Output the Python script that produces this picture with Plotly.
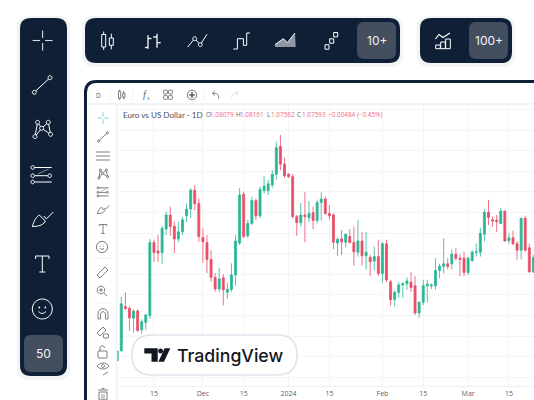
import re
import plotly.graph_objects as go

W, H = 534, 400

# daily EUR/USD candles
day_index = list(range(-1, 102))
opens = [1.0584, 1.0609, 1.0720, 1.0716, 1.0691, 1.0709, 1.0662, 1.0680, 1.0698, 1.0880, 1.0859, 1.0855, 1.0914,
         1.0949, 1.0921, 1.0889, 1.0907, 1.0947, 1.0964, 1.1011, 1.0978, 1.0893, 1.0880, 1.0838, 1.0793, 1.0764,
         1.0792, 1.0756, 1.0763, 1.0799, 1.0879, 1.1001, 1.0897, 1.0928, 1.0985, 1.0947, 1.1010, 1.1010, 1.1024,
         1.1051, 1.1120, 1.1076, 1.1051, 1.1045, 1.0945, 1.0930, 1.0949, 1.0942, 1.0955, 1.0935, 1.0980, 1.0989,
         1.0953, 1.0949, 1.0879, 1.0889, 1.0881, 1.0895, 1.0880, 1.0856, 1.0884, 1.0847, 1.0843, 1.0834, 1.0845,
         1.0803, 1.0877, 1.0782, 1.0738, 1.0755, 1.0774, 1.0777, 1.0781, 1.0772, 1.0704, 1.0731, 1.0772, 1.0772,
         1.0772, 1.0810, 1.0820, 1.0827, 1.0827, 1.0851, 1.0841, 1.0841, 1.0805, 1.0835, 1.0856, 1.0856, 1.0901,
         1.0956, 1.0937, 1.0936, 1.0928, 1.0959, 1.0885, 1.0892, 1.0877, 1.0861, 1.0941, 1.0867, 1.0807]
highs = [1.0609, 1.0744, 1.0756, 1.0720, 1.0713, 1.0714, 1.0688, 1.0702, 1.0889, 1.0887, 1.0899, 1.0921, 1.0957,
         1.0970, 1.0932, 1.0932, 1.0945, 1.0978, 1.1016, 1.1024, 1.0991, 1.0916, 1.0899, 1.0861, 1.0804, 1.0817,
         1.0801, 1.0780, 1.0828, 1.0899, 1.1016, 1.1007, 1.0937, 1.0995, 1.0991, 1.1020, 1.1047, 1.1037, 1.1061,
         1.1132, 1.1149, 1.1092, 1.1053, 1.1051, 1.0949, 1.0979, 1.1006, 1.0984, 1.0970, 1.0987, 1.1006, 1.0995,
         1.0974, 1.0954, 1.0892, 1.0911, 1.0901, 1.0914, 1.0920, 1.0937, 1.0907, 1.0906, 1.0849, 1.0870, 1.0887,
         1.0882, 1.0887, 1.0787, 1.0760, 1.0782, 1.0782, 1.0793, 1.0806, 1.0796, 1.0732, 1.0787, 1.0787, 1.0778,
         1.0841, 1.0827, 1.0891, 1.0841, 1.0863, 1.0866, 1.0851, 1.0857, 1.0845, 1.0861, 1.0878, 1.0917, 1.0964,
         1.0987, 1.0945, 1.0949, 1.0967, 1.0960, 1.0903, 1.0910, 1.0884, 1.0942, 1.0947, 1.0878, 1.0849]
lows = [1.0584, 1.0609, 1.0712, 1.0660, 1.0655, 1.0657, 1.0652, 1.0662, 1.0689, 1.0832, 1.0832, 1.0827, 1.0899,
        1.0897, 1.0854, 1.0882, 1.0899, 1.0931, 1.0941, 1.0961, 1.0882, 1.0830, 1.0804, 1.0782, 1.0757, 1.0757,
        1.0723, 1.0740, 1.0757, 1.0772, 1.0874, 1.0891, 1.0892, 1.0924, 1.0937, 1.0941, 1.1003, 1.0999, 1.1017,
        1.1037, 1.1061, 1.1042, 1.1042, 1.0941, 1.0897, 1.0920, 1.0881, 1.0931, 1.0914, 1.0928, 1.0935, 1.0949,
        1.0937, 1.0864, 1.0847, 1.0849, 1.0868, 1.0879, 1.0822, 1.0845, 1.0822, 1.0813, 1.0797, 1.0811, 1.0797,
        1.0780, 1.0781, 1.0722, 1.0720, 1.0742, 1.0742, 1.0762, 1.0757, 1.0699, 1.0692, 1.0724, 1.0730, 1.0764,
        1.0762, 1.0791, 1.0803, 1.0813, 1.0813, 1.0835, 1.0796, 1.0796, 1.0799, 1.0832, 1.0845, 1.0845, 1.0882,
        1.0924, 1.0920, 1.0907, 1.0926, 1.0882, 1.0877, 1.0874, 1.0837, 1.0838, 1.0857, 1.0804, 1.0804]
closes = [1.0609, 1.0727, 1.0715, 1.0692, 1.0709, 1.0660, 1.0682, 1.0699, 1.0880, 1.0855, 1.0854, 1.0916, 1.0949,
          1.0920, 1.0889, 1.0907, 1.0937, 1.0964, 1.1011, 1.0977, 1.0895, 1.0882, 1.0838, 1.0793, 1.0764, 1.0789,
          1.0762, 1.0763, 1.0799, 1.0884, 1.0999, 1.0895, 1.0928, 1.0985, 1.0947, 1.1013, 1.1021, 1.1027, 1.1051,
          1.1117, 1.1076, 1.1047, 1.1045, 1.0945, 1.0930, 1.0949, 1.0945, 1.0953, 1.0935, 1.0980, 1.0989, 1.0953,
          1.0947, 1.0881, 1.0888, 1.0882, 1.0901, 1.0880, 1.0857, 1.0884, 1.0847, 1.0856, 1.0832, 1.0845, 1.0803,
          1.0877, 1.0787, 1.0737, 1.0756, 1.0774, 1.0777, 1.0784, 1.0768, 1.0704, 1.0731, 1.0772, 1.0776, 1.0774,
          1.0810, 1.0821, 1.0827, 1.0820, 1.0851, 1.0841, 1.0838, 1.0805, 1.0841, 1.0856, 1.0857, 1.0903, 1.0956,
          1.0943, 1.0934, 1.0932, 1.0959, 1.0884, 1.0892, 1.0877, 1.0861, 1.0941, 1.0861, 1.0807, 1.0842]
last_close = 1.0759

tick_days = [8, 20, 30, 41, 51, 64, 74, 85, 95]
tick_labels = ["15", "Dec", "15", "2024", "15", "Feb", "15", "Mar", "15"]

NAVY = "#0f1f35"
BUTTON = "#434e5f"
GREEN = "#2bb595"
RED = "#e94f68"
ICON = "#5a5d68"
TEAL = "#7fd6cf"

shapes = []
notes = []


def to_paper(path):
    # path is written in page pixels, shapes want paper fractions
    out = []
    is_x = True
    for tok in re.findall(r"[MLQCZ]|-?[\d.]+", path):
        if tok.isalpha():
            out.append(tok)
        else:
            out.append(f"{float(tok) / W:.5f}" if is_x else f"{1 - float(tok) / H:.5f}")
            is_x = not is_x
    return " ".join(out)


def add_path(path, fill=None, line=None, width=1.0, layer="above", opacity=1):
    shapes.append(dict(type="path", path=to_paper(path), xref="paper", yref="paper", layer=layer, opacity=opacity,
                       fillcolor=fill or "rgba(0,0,0,0)",
                       line=dict(color=line or "rgba(0,0,0,0)", width=width if line else 0)))


def round_rect(x0, y0, x1, y1, r):
    return (f"M {x0 + r} {y0} L {x1 - r} {y0} Q {x1} {y0} {x1} {y0 + r} L {x1} {y1 - r} Q {x1} {y1} {x1 - r} {y1} "
            f"L {x0 + r} {y1} Q {x0} {y1} {x0} {y1 - r} L {x0} {y0 + r} Q {x0} {y0} {x0 + r} {y0} Z")


def circle(cx, cy, r):
    k = r * 0.5523
    return (f"M {cx - r} {cy} C {cx - r} {cy - k} {cx - k} {cy - r} {cx} {cy - r} "
            f"C {cx + k} {cy - r} {cx + r} {cy - k} {cx + r} {cy} "
            f"C {cx + r} {cy + k} {cx + k} {cy + r} {cx} {cy + r} "
            f"C {cx - k} {cy + r} {cx - r} {cy + k} {cx - r} {cy} Z")


def poly(cx, cy, s, pts, closed=False):
    d = "M " + " L ".join(f"{cx + x * s} {cy + y * s}" for x, y in pts)
    return d + (" Z" if closed else "")


def text(x, y, s, size, color, anchor="center", family="Inter", weight=None):
    notes.append(dict(x=x / W, y=1 - y / H, xref="paper", yref="paper", text=s, showarrow=False, xanchor=anchor,
                      yanchor="middle", align=anchor, borderpad=0,
                      font=dict(size=size, color=color, family=family, weight=weight)))


# icons are drawn on a 24 px box around their centre, s scales them
def icon_cross(cx, cy, s, c, w):
    for a, b in [((-10, 0), (-2.5, 0)), ((2.5, 0), (10, 0)), ((0, -10), (0, -2.5)), ((0, 2.5), (0, 10))]:
        add_path(poly(cx, cy, s, [a, b]), line=c, width=w)


def ring(cx, cy, s, x, y, r, c, w, bg):
    add_path(circle(cx + x * s, cy + y * s, r * s), fill=bg, line=c, width=w)


def icon_line(cx, cy, s, c, w, bg):
    add_path(poly(cx, cy, s, [(-8, 7.3), (7.7, -7.3)]), line=c, width=w)
    ring(cx, cy, s, -8, 7.3, 2, c, w, bg)
    ring(cx, cy, s, 7.7, -7.3, 2, c, w, bg)


def icon_pattern(cx, cy, s, c, w, bg):
    pts = [(-7.3, 7.3), (-4.7, -7), (-0.7, -1), (6, -7), (8.3, 5), (-0.7, -1), (-7.3, 7.3)]
    add_path(poly(cx, cy, s, pts), line=c, width=w)
    for x, y in pts[:5]:
        ring(cx, cy, s, x, y, 2, c, w, bg)


def icon_fib(cx, cy, s, c, w, bg):
    add_path(poly(cx, cy, s, [(-9, -7.5), (10, -7.5)]), line=c, width=w)
    add_path(poly(cx, cy, s, [(-9, 7), (10, 7)]), line=c, width=w)
    add_path(poly(cx, cy, s, [(-9, 0.7), (8, 0.7)]), line=c, width=w)
    add_path(poly(cx, cy, s, [(-4, -1), (7, -6)]), line=c, width=w * 0.7, opacity=0.7)
    for x, y in [(-9, -7.5), (-9, 0.7), (8, 0.7), (-9, 7)]:
        ring(cx, cy, s, x, y, 1.8, c, w, bg)


def icon_brush(cx, cy, s, c, w):
    p = lambda x, y: f"{cx + x * s} {cy + y * s}"
    add_path(f"M {p(-10, 6.5)} C {p(-8, 0)} {p(-6, -3)} {p(-3, -5)} L {p(3, 1)} C {p(2, 4)} {p(-2, 6.5)} {p(-10, 6.5)} Z",
             line=c, width=w)
    add_path(poly(cx, cy, s, [(1.5, -4), (4, -1), (11, -8)]), line=c, width=w)


def icon_t(cx, cy, s, c, w):
    add_path(poly(cx, cy, s, [(-6.7, -5), (-6.7, -8), (6.7, -8), (6.7, -5)]), line=c, width=w)
    add_path(poly(cx, cy, s, [(0, -8), (0, 8)]), line=c, width=w)
    add_path(poly(cx, cy, s, [(-3, 8), (3, 8)]), line=c, width=w)


def icon_smile(cx, cy, s, c, w):
    p = lambda x, y: f"{cx + x * s} {cy + y * s}"
    add_path(circle(cx, cy, 10 * s), line=c, width=w)
    add_path(circle(cx - 3 * s, cy - 1.5 * s, 0.9 * s), fill=c)
    add_path(circle(cx + 3 * s, cy - 1.5 * s, 0.9 * s), fill=c)
    add_path(f"M {p(-3.7, 2.5)} Q {p(0, 6.5)} {p(3.7, 2.5)}", line=c, width=w)


def icon_candles(cx, cy, s, c, w):
    add_path(poly(cx, cy, s, [(-4.3, -9.5), (-4.3, 9)]), line=c, width=w)
    add_path(poly(cx, cy, s, [(-6.3, -6.5), (-2.3, -6.5), (-2.3, 6), (-6.3, 6)], True), fill=NAVY if c == "#ffffff" else "#ffffff", line=c, width=w)
    add_path(poly(cx, cy, s, [(3.3, -7.3), (3.3, 8.3)]), line=c, width=w)
    add_path(poly(cx, cy, s, [(1.3, -3), (5.3, -3), (5.3, 4.3), (1.3, 4.3)], True), fill=NAVY if c == "#ffffff" else "#ffffff", line=c, width=w)


# dark rails behind the chart
for x0, y0, x1, y1 in [(20, 18, 67, 376), (85, 18, 400, 63), (420, 18, 512, 63)]:
    add_path(round_rect(x0 - 3, y0 - 2, x1 + 3, y1 + 4, 12), fill="#0f1f35", layer="below", opacity=0.05)
    add_path(round_rect(x0, y0, x1, y1, 11), fill=NAVY, layer="below")
for x0, y0, x1, y1, label, size in [(24, 335, 63, 372, "50", 12), (357, 22, 396, 59, "10+", 12),
                                    (469, 22, 508, 59, "100+", 12)]:
    add_path(round_rect(x0, y0, x1, y1, 7), fill=BUTTON, layer="below")
    text((x0 + x1) / 2, (y0 + y1) / 2, label, size, "#f2f3f5")

# chart window
add_path(round_rect(85.5, 81.5, 590, 440, 11), fill="#ffffff", line=NAVY, width=3, layer="below")
add_path("M 88 104 L 534 104", line="#f0f3fa", width=2, layer="below")
add_path("M 116.5 104 L 116.5 400", line="#f0f3fa", width=2, layer="below")
add_path("M 117 386.5 L 534 386.5", line="#f0f3fa", width=1.5, layer="below")

# sidebar icons
BG = NAVY
W1 = 1.0
icon_cross(42.6, 40.5, 1, "#d8dce2", 1.1)
icon_line(42.3, 85, 1, "#ffffff", W1, BG)
icon_pattern(42.3, 129.3, 1, "#ffffff", W1, BG)
icon_fib(41.7, 175, 1, "#ffffff", W1, BG)
icon_brush(42.3, 220, 1, "#ffffff", W1)
icon_t(42.3, 264, 1, "#ffffff", W1)
icon_smile(42.3, 309, 1, "#ffffff", W1)

# top chart type icons
icon_candles(108, 41, 1, "#ffffff", W1)
add_path(poly(153, 41, 1, [(-5, -5.7), (-5, 7.7)]), line="#ffffff", width=W1 + 0.3)
add_path(poly(153, 41, 1, [(-8, 6.5), (-5, 6.5)]), line="#ffffff", width=W1 + 0.3)
add_path(poly(153, 41, 1, [(-5, -2.5), (-1.5, -2.5)]), line="#ffffff", width=W1 + 0.3)
add_path(poly(153, 41, 1, [(4, -7.3), (4, 6.7)]), line="#ffffff", width=W1 + 0.3)
add_path(poly(153, 41, 1, [(0, -4), (4, -4)]), line="#ffffff", width=W1 + 0.3)
add_path(poly(153, 41, 1, [(4, 1.7), (7.7, 1.7)]), line="#ffffff", width=W1 + 0.3)
add_path(poly(197, 41, 1, [(-9.3, 6), (-2.3, -2.3), (3.3, 3.7), (10, -6.7)]), line="#ffffff", width=W1)
ring(197, 41, 1, -2.3, -2.3, 1.9, "#ffffff", W1, NAVY)
ring(197, 41, 1, 3.3, 3.7, 1.9, "#ffffff", W1, NAVY)
add_path(poly(241.7, 41, 1, [(-8.3, 8), (-4.3, 8), (-4.3, -2.3), (1.7, -2.3), (1.7, 4.3), (5, 4.3), (5, -8), (8.3, -8)]),
         line="#ffffff", width=W1)
add_path(poly(285.7, 41, 1, [(-10.7, 3.7), (-2.3, -2.3), (1.7, 1.7), (9.3, -8), (10, 6), (-10.7, 6)], True),
         fill="#8f96a1", line=None)
add_path(poly(285.7, 41, 1, [(-10.7, 3.7), (-2.3, -2.3), (1.7, 1.7), (9.3, -8)]), line="#ffffff", width=W1)
for x, y in [(-3.7, 6), (1, 0), (5, -6.3)]:
    add_path(poly(330.7, 41, 1, [(x - 2, y - 2.2), (x + 2, y - 2.2), (x + 2, y + 2.2), (x - 2, y + 2.2)], True),
             line="#ffffff", width=W1)
add_path(poly(443, 41, 1, [(-7.5, -2), (-4, -6.5), (0, -3.5), (7, -8)]), line="#ffffff", width=W1 + 0.2)
for x, top in [(-5, 4), (0, 1), (5, -2)]:
    add_path(poly(443, 41, 1, [(x - 2.3, 7.7), (x - 2.3, top), (x + 2.3, top), (x + 2.3, 7.7)], True),
             line="#ffffff", width=W1)

# chart window toolbars, same icons at a smaller size
S = 0.56
icon_cross(103, 118, S, TEAL, 1)
icon_line(103, 137, S, ICON, 0.8, "#ffffff")
for yy in [152, 156, 160]:
    add_path(f"M 96 {yy} L 110 {yy}", line=ICON, width=0.8)
icon_pattern(103, 174, S, ICON, 0.8, "#ffffff")
icon_fib(103, 192, S, ICON, 0.8, "#ffffff")
icon_brush(103, 210, S, ICON, 0.8)
icon_t(103, 229, S, ICON, 0.8)
icon_smile(102, 247, S, ICON, 0.8)
add_path("M 97 275 L 105 267 L 108 270 L 100 278 Z", line=ICON, width=0.8)
add_path(circle(101, 290, 3.8), line=ICON, width=0.8)
add_path("M 104 293 L 107 296 M 99 290 L 103 290 M 101 288 L 101 292", line=ICON, width=0.8)
add_path("M 98 319 L 98 314 C 98 307 108 307 108 314 L 108 319 L 105.5 319 L 105.5 314 C 105.5 311 100.5 311 100.5 314 L 100.5 319 Z",
         line=ICON, width=0.8)
add_path("M 97 333 L 103 327 L 106 330 L 100 336 Z", line=ICON, width=0.8)
add_path(round_rect(103.5, 334, 108.5, 338, 0.5), line=ICON, width=0.8)
add_path(round_rect(98, 351, 107, 358, 0.6), line=ICON, width=0.8)
add_path("M 100 351 L 100 348 C 100 345 104.5 345 104.5 348", line=ICON, width=0.8)
add_path("M 97 366 C 100 362 106 362 109 366 C 106 370 100 370 97 366 Z", line=ICON, width=0.8)
add_path(circle(103, 366, 1.5), line=ICON, width=0.8)
add_path("M 103 375 L 108 372", line=ICON, width=0.8)
add_path("M 99 392 L 107 392 L 107 400 L 99 400 Z M 98 390 L 108 390 M 101.5 388.5 L 104.5 388.5", line=ICON, width=0.8)
add_path("M 102 394 L 102 400 M 104 394 L 104 400", line=ICON, width=0.6)

text(98, 95, "D", 6.5, "#555b66", family="Open Sans")
icon_candles(122, 95, S, ICON, 0.8)
text(145, 94.5, "<i>f</i>", 10, ICON, family="Liberation Serif")
text(148.5, 97.5, "x", 5, ICON, family="Open Sans")
for x, y in [(165.5, 92), (170.5, 92), (165.5, 97.5), (170.5, 97.5)]:
    add_path(round_rect(x - 1.9, y - 1.9, x + 1.9, y + 1.9, 0.7), line=ICON, width=0.8)
add_path(circle(192, 95, 4.7), line=ICON, width=0.8)
add_path("M 189 95 L 195 95 M 192 92 L 192 98", line="#30343c", width=1.2)
add_path("M 218.5 98.5 C 219.5 94 216 93 212.5 93.3 M 214.8 91 L 212.5 93.3 L 214.8 95.6", line=ICON, width=0.8)
add_path("M 232 98.5 C 231 94 234.5 93 238 93.3 M 235.7 91 L 238 93.3 L 235.7 95.6", line="#d5d8de", width=0.8)
for x in [110, 133, 204]:
    add_path(f"M {x} 90 L {x} 100", line="#eceef2", width=0.8)
for y in [258, 303]:
    add_path(f"M 94 {y} L 112 {y}", line="#eceef2", width=0.8)

# legend line above the candles
text(122, 114.5, "Euro vs US Dollar - 1D", 8.1, "#4a4f5a", anchor="left", family="Lato")
for x, label, value in [(204.5, "O", "1.08079"), (234.5, "H", "1.08161"), (265.5, "L", "1.07562"), (296, "C", "1.07593")]:
    text(x, 114.5, label, 6.4, "#5f636d", anchor="left", family="Open Sans")
    text(x + 4.6, 114.5, value, 6.4, "#ee6a83", anchor="left", family="Open Sans")
text(327, 114.5, "−0.00484 (−0.45%)", 6.4, "#ee6a83", anchor="left", family="Open Sans")

# logo badge, sits on top of the candles
add_path(round_rect(132, 335, 297, 375, 20), fill="#ffffff", line="#e0e3eb", width=1.6)
add_path("M 144.3 348.3 L 157.7 348.3 L 157.7 361.7 L 151.5 361.7 L 151.5 353.6 L 144.3 353.6 Z", fill="#131722")
add_path(circle(160.6, 350.9, 2.5), fill="#131722")
add_path("M 170.3 348.3 L 164 361.7 L 158.4 361.7 L 164.6 348.3 Z", fill="#131722")
text(176.2, 355, "TradingView", 17.7, "#131722", anchor="left", weight=500)

fig = go.Figure(go.Candlestick(
    x=day_index, open=opens, high=highs, low=lows, close=closes,
    increasing=dict(line=dict(color=GREEN, width=0.8), fillcolor=GREEN),
    decreasing=dict(line=dict(color=RED, width=0.8), fillcolor=RED),
    whiskerwidth=0,
    showlegend=False,
    hoverinfo="skip",
))

fig.add_shape(type="line", xref="paper", x0=117.5 / W, x1=1, yref="y", y0=last_close, y1=last_close,
              layer="below", line=dict(color="#f5a9b6", width=0.8, dash="2px,2px"))
for s in shapes:
    fig.add_shape(**s)

fig.update_layout(
    width=W, height=H,
    margin=dict(l=0, r=0, t=0, b=0),
    paper_bgcolor="#ffffff",
    plot_bgcolor="rgba(0,0,0,0)",
    annotations=notes,
    hovermode=False,
    xaxis=dict(
        domain=[117.5 / W, 1], range=[-0.93, 101.15], rangeslider=dict(visible=False),
        tickmode="array", tickvals=tick_days, ticktext=tick_labels, ticks="", ticklabelstandoff=1,
        tickfont=dict(size=7, color="#5d606b", family="Open Sans"),
        showgrid=True, gridcolor="#f3f4f7", gridwidth=1, zeroline=False, showline=False,
    ),
    yaxis=dict(
        domain=[1 - 386.5 / H, 1 - 104 / H], range=[1.052025, 1.12265],
        tick0=1.11615, dtick=0.00515, showticklabels=False, ticks="",
        showgrid=True, gridcolor="#f3f4f7", gridwidth=1, zeroline=False, showline=False,
    ),
)

fig.write_html("out.html", config={"displayModeBar": False},
               post_script="document.body.style.margin='0';document.body.style.overflow='hidden';")
